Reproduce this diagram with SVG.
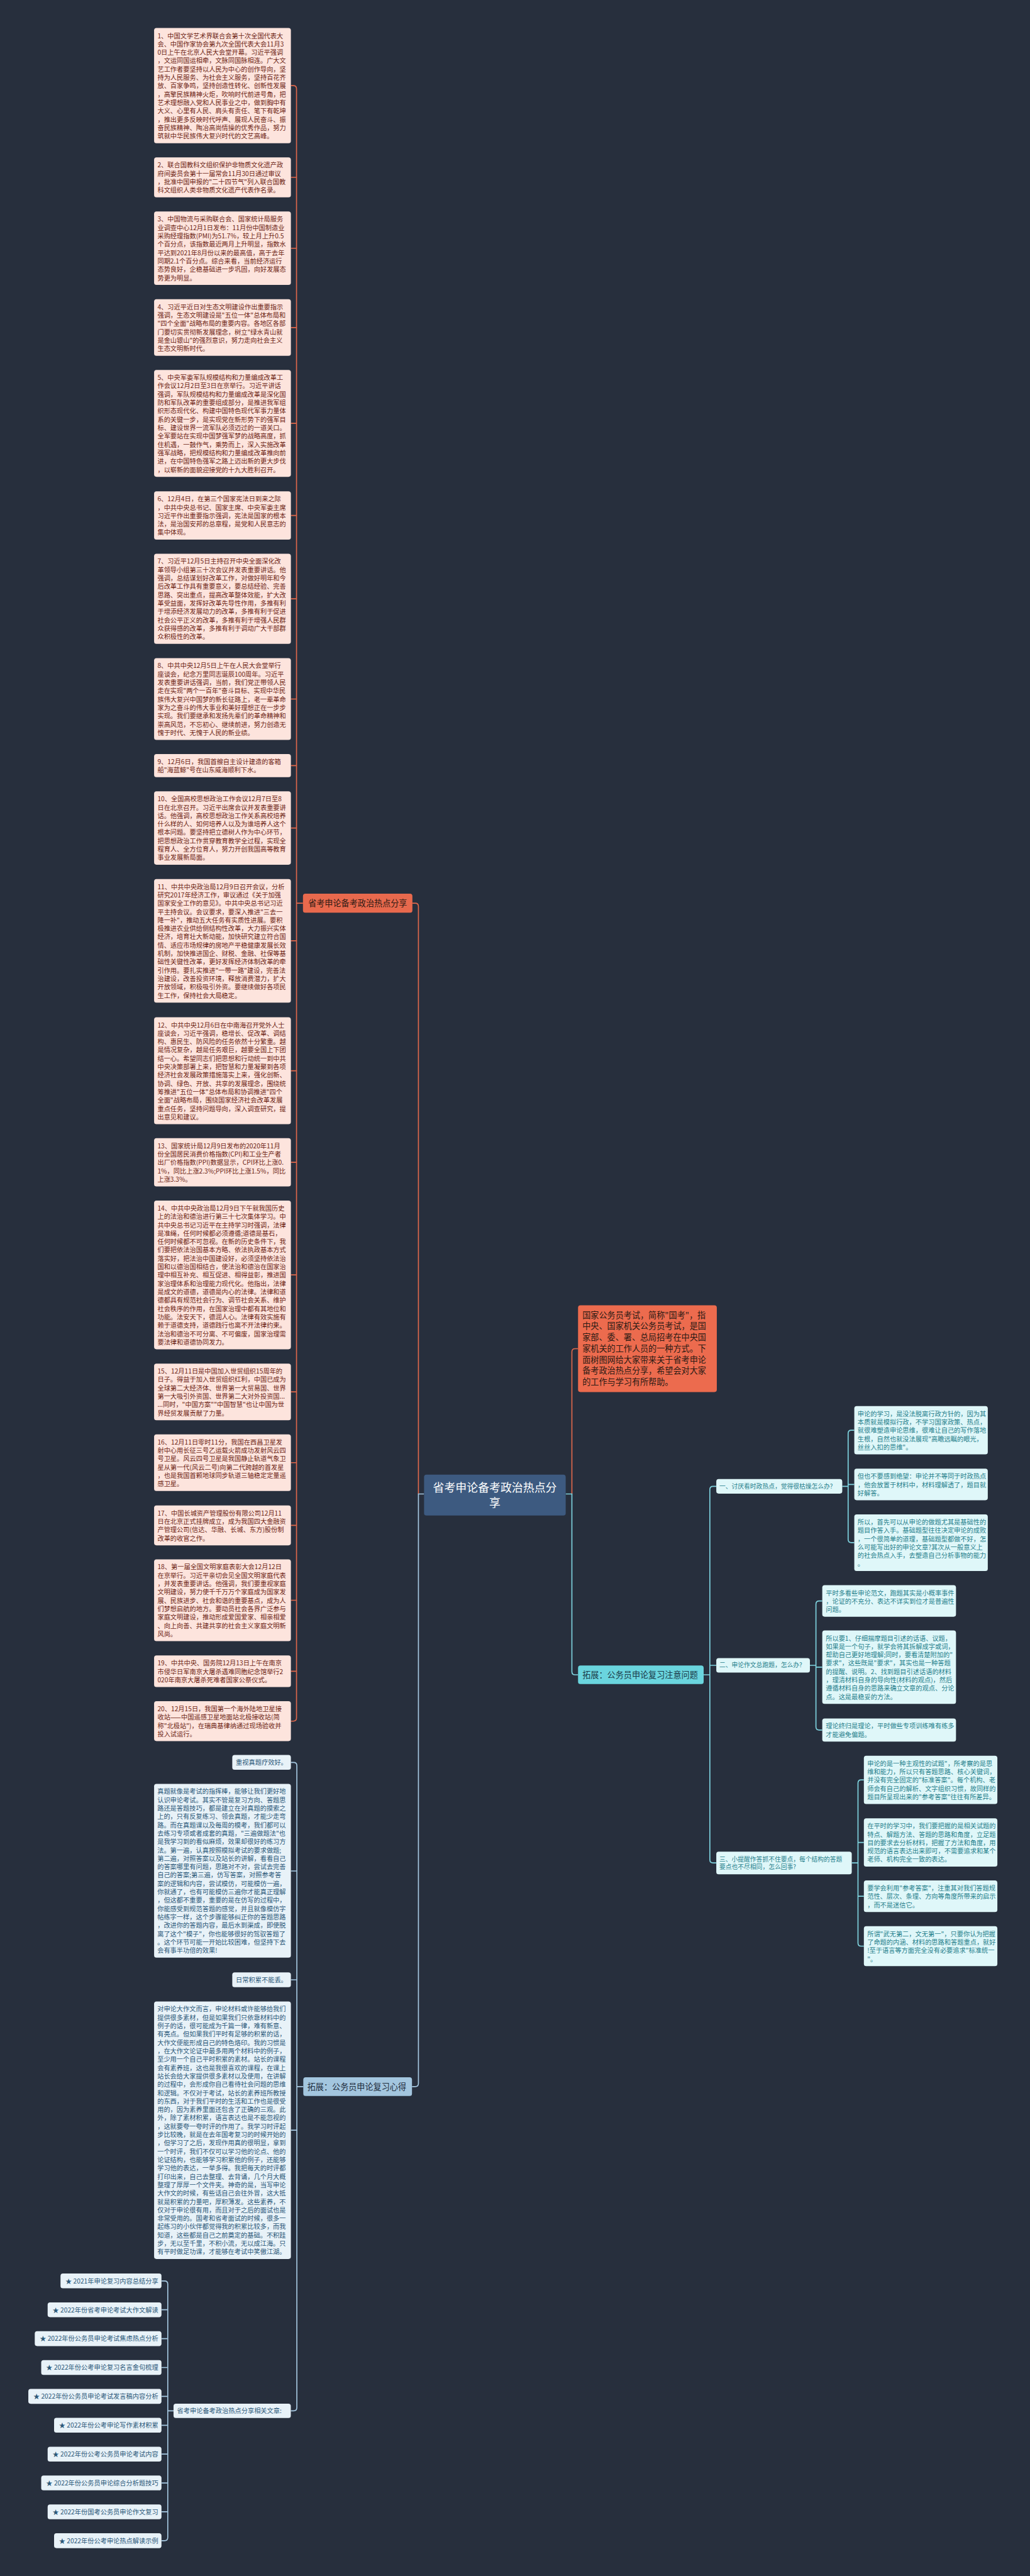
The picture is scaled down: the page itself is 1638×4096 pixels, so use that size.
<svg xmlns="http://www.w3.org/2000/svg" width="1638" height="4096" viewBox="0 0 1638 4096">
<style>
text{font-family:'Noto Sans CJK SC','Noto Sans',sans-serif;}
.lb{fill:#fde4dd;}
.lt{fill:#6e2414;font-size:16px;}
.cb{fill:#dff7f9;}
.ct{fill:#1f7f8c;font-size:16px;}
.bb{fill:#e8f2f8;}
.bt{fill:#2b5878;font-size:16px;}
.oc{fill:none;stroke:#e0684c;stroke-width:2.6;}
.cc{fill:none;stroke:#7fd4e0;stroke-width:2.6;}
.bc{fill:none;stroke:#a7c9e2;stroke-width:2.6;}
</style>
<rect width="1638" height="4096" fill="#272f3d"/>
<g transform="scale(0.63984)">
<g id="connectors">
<path class="oc" d="M723,212.8 H729 Q737,212.8 737,220.8 V4269.2 Q737,4277.2 729,4277.2 H723 M737,440.8 H723 M737,616.9 H723 M737,814 H723 M737,1052.1 H723 M737,1281 H723 M737,1488 H723 M737,1737.1 H723 M737,1902.6 H723 M737,2057.7 H723 M737,2338 H723 M737,2660.9 H723 M737,2888.4 H723 M737,3168.3 H723 M737,3459 H723 M737,3634.9 H723 M737,3790.7 H723 M737,3976.8 H723 M737,4153.2 H723 M737,2244.5 H753"/>
<path class="oc" d="M1040,3712.7 V2252.5 Q1040,2244.5 1032,2244.5 H1025"/>
<path class="bc" d="M1054,3712.7 H1040 V5177.5 Q1040,5185.5 1032,5185.5 H1024"/>
<path class="oc" d="M1421.4,3712.7 V3359.6 Q1421.4,3351.6 1429.4,3351.6 H1436.7"/>
<path class="cc" d="M1406,3712.7 H1421.4 V4154 Q1421.4,4162 1429.4,4162 H1436.7"/>
<path class="cc" d="M1748.9,4162 H1764.3 M1780.3,3693.7 H1772.3 Q1764.3,3693.7 1764.3,3701.7 V4621.6 Q1764.3,4629.6 1772.3,4629.6 H1780.3 M1764.3,4138.5 H1780.3"/>
<path class="cc" d="M2093.4,3693.7 H2108 M2123.3,3554.2 H2116 Q2108,3554.2 2108,3562.2 V3825.7 Q2108,3833.7 2116,3833.7 H2123.3 M2108,3688.9 H2123.3"/>
<path class="cc" d="M2013,4138.5 H2028 M2043.7,3978.5 H2036 Q2028,3978.5 2028,3986.5 V4291.3 Q2028,4299.3 2036,4299.3 H2043.7 M2028,4143.1 H2043.7"/>
<path class="cc" d="M2117,4629.6 H2132.5 M2147.1,4423.2 H2140.5 Q2132.5,4423.2 2132.5,4431.2 V4828.4 Q2132.5,4836.4 2140.5,4836.4 H2147.1 M2132.5,4578.7 H2147.1 M2132.5,4712.4 H2147.1"/>
<path class="bc" d="M753.8,5185.5 H737.8 M723,4379.7 H729.8 Q737.8,4379.7 737.8,4387.7 V5983.1 Q737.8,5991.1 729.8,5991.1 H722.8 M737.8,4649.6 H723 M737.8,4920 H723 M737.8,5293.8 H723"/>
<path class="bc" d="M431.3,5991.1 H417 M401.3,5668.3 H409 Q417,5668.3 417,5676.3 V6305.9 Q417,6313.9 409,6313.9 H401.3 M417,5740 H401.3 M417,5811.8 H401.3 M417,5883.5 H401.3 M417,5955.2 H401.3 M417,6027 H401.3 M417,6098.7 H401.3 M417,6170.4 H401.3 M417,6242.1 H401.3"/>
</g>

<g id="root">
<rect x="1054" y="3664.6" width="352" height="101.7" rx="6" fill="#3d5a80"/>
<text x="1230" y="3707" text-anchor="middle" fill="#ffffff" font-size="28"><tspan x="1230">省考申论备考政治热点分</tspan><tspan x="1230" dy="37">享</tspan></text>
</g>

<g id="branch-hot">
<rect x="753" y="2220.7" width="272" height="47.6" rx="6" fill="#e8694d"/>
<text x="889" y="2252" text-anchor="middle" fill="#2d1a14" font-size="20.5">省考申论备考政治热点分享</text>
</g>

<g id="n1"><rect class="lb" x="383" y="69.6" width="340" height="286.4" rx="6"/>
<text class="lt" y="94.6"><tspan x="391.4">1、中国文学艺术界联合会第十次全国代表大</tspan><tspan x="391.4" dy="20.8">会、中国作家协会第九次全国代表大会11月3</tspan><tspan x="391.4" dy="20.8">0日上午在北京人民大会堂开幕。习近平强调</tspan><tspan x="391.4" dy="20.8">，文运同国运相牵，文脉同国脉相连。广大文</tspan><tspan x="391.4" dy="20.8">艺工作者要坚持以人民为中心的创作导向，坚</tspan><tspan x="391.4" dy="20.8">持为人民服务、为社会主义服务，坚持百花齐</tspan><tspan x="391.4" dy="20.8">放、百家争鸣，坚持创造性转化、创新性发展</tspan><tspan x="391.4" dy="20.8">，高擎民族精神火炬，吹响时代前进号角，把</tspan><tspan x="391.4" dy="20.8">艺术理想融入党和人民事业之中，做到胸中有</tspan><tspan x="391.4" dy="20.8">大义、心里有人民、肩头有责任、笔下有乾坤</tspan><tspan x="391.4" dy="20.8">，推出更多反映时代呼声、展现人民奋斗、振</tspan><tspan x="391.4" dy="20.8">奋民族精神、陶冶高尚情操的优秀作品，努力</tspan><tspan x="391.4" dy="20.8">筑就中华民族伟大复兴时代的文艺高峰。</tspan></text></g>

<g id="n2"><rect class="lb" x="383" y="391.2" width="340" height="99.2" rx="6"/>
<text class="lt" y="416.2"><tspan x="391.4">2、联合国教科文组织保护非物质文化遗产政</tspan><tspan x="391.4" dy="20.8">府间委员会第十一届常会11月30日通过审议</tspan><tspan x="391.4" dy="20.8">，批准中国申报的"二十四节气"列入联合国教</tspan><tspan x="391.4" dy="20.8">科文组织人类非物质文化遗产代表作名录。</tspan></text></g>

<g id="n3"><rect class="lb" x="383" y="525.7" width="340" height="182.4" rx="6"/>
<text class="lt" y="550.7"><tspan x="391.4">3、中国物流与采购联合会、国家统计局服务</tspan><tspan x="391.4" dy="20.8">业调查中心12月1日发布：11月份中国制造业</tspan><tspan x="391.4" dy="20.8">采购经理指数(PMI)为51.7%，较上月上升0.5</tspan><tspan x="391.4" dy="20.8">个百分点，该指数最近两月上升明显，指数水</tspan><tspan x="391.4" dy="20.8">平达到2021年8月份以来的最高值，高于去年</tspan><tspan x="391.4" dy="20.8">同期2.1个百分点。综合来看，当前经济运行</tspan><tspan x="391.4" dy="20.8">态势良好，企稳基础进一步巩固，向好发展态</tspan><tspan x="391.4" dy="20.8">势更为明显。</tspan></text></g>

<g id="n4"><rect class="lb" x="383" y="743.6" width="340" height="140.8" rx="6"/>
<text class="lt" y="768.6"><tspan x="391.4">4、习近平近日对生态文明建设作出重要指示</tspan><tspan x="391.4" dy="20.8">强调，生态文明建设是"五位一体"总体布局和</tspan><tspan x="391.4" dy="20.8">"四个全面"战略布局的重要内容。各地区各部</tspan><tspan x="391.4" dy="20.8">门要切实贯彻新发展理念，树立"绿水青山就</tspan><tspan x="391.4" dy="20.8">是金山银山"的强烈意识，努力走向社会主义</tspan><tspan x="391.4" dy="20.8">生态文明新时代。</tspan></text></g>

<g id="n5"><rect class="lb" x="383" y="919.3" width="340" height="265.6" rx="6"/>
<text class="lt" y="944.3"><tspan x="391.4">5、中央军委军队规模结构和力量编成改革工</tspan><tspan x="391.4" dy="20.8">作会议12月2日至3日在京举行。习近平讲话</tspan><tspan x="391.4" dy="20.8">强调，军队规模结构和力量编成改革是深化国</tspan><tspan x="391.4" dy="20.8">防和军队改革的重要组成部分，是推进我军组</tspan><tspan x="391.4" dy="20.8">织形态现代化、构建中国特色现代军事力量体</tspan><tspan x="391.4" dy="20.8">系的关键一步，是实现党在新形势下的强军目</tspan><tspan x="391.4" dy="20.8">标、建设世界一流军队必须迈过的一道关口。</tspan><tspan x="391.4" dy="20.8">全军要站在实现中国梦强军梦的战略高度，抓</tspan><tspan x="391.4" dy="20.8">住机遇，一鼓作气，乘势而上，深入实施改革</tspan><tspan x="391.4" dy="20.8">强军战略，把规模结构和力量编成改革推向前</tspan><tspan x="391.4" dy="20.8">进，在中国特色强军之路上迈出新的更大步伐</tspan><tspan x="391.4" dy="20.8">，以崭新的面貌迎接党的十九大胜利召开。</tspan></text></g>

<g id="n6"><rect class="lb" x="383" y="1221" width="340" height="120" rx="6"/>
<text class="lt" y="1246"><tspan x="391.4">6、12月4日，在第三个国家宪法日到来之际</tspan><tspan x="391.4" dy="20.8">，中共中央总书记、国家主席、中央军委主席</tspan><tspan x="391.4" dy="20.8">习近平作出重要指示强调，宪法是国家的根本</tspan><tspan x="391.4" dy="20.8">法，是治国安邦的总章程，是党和人民意志的</tspan><tspan x="391.4" dy="20.8">集中体现。</tspan></text></g>

<g id="n7"><rect class="lb" x="383" y="1376" width="340" height="224" rx="6"/>
<text class="lt" y="1401"><tspan x="391.4">7、习近平12月5日主持召开中央全面深化改</tspan><tspan x="391.4" dy="20.8">革领导小组第三十次会议并发表重要讲话。他</tspan><tspan x="391.4" dy="20.8">强调，总结谋划好改革工作，对做好明年和今</tspan><tspan x="391.4" dy="20.8">后改革工作具有重要意义，要总结经验、完善</tspan><tspan x="391.4" dy="20.8">思路、突出重点，提高改革整体效能，扩大改</tspan><tspan x="391.4" dy="20.8">革受益面，发挥好改革先导性作用，多推有利</tspan><tspan x="391.4" dy="20.8">于增添经济发展动力的改革，多推有利于促进</tspan><tspan x="391.4" dy="20.8">社会公平正义的改革，多推有利于增强人民群</tspan><tspan x="391.4" dy="20.8">众获得感的改革，多推有利于调动广大干部群</tspan><tspan x="391.4" dy="20.8">众积极性的改革。</tspan></text></g>

<g id="n8"><rect class="lb" x="383" y="1635.5" width="340" height="203.2" rx="6"/>
<text class="lt" y="1660.5"><tspan x="391.4">8、中共中央12月5日上午在人民大会堂举行</tspan><tspan x="391.4" dy="20.8">座谈会，纪念万里同志诞辰100周年。习近平</tspan><tspan x="391.4" dy="20.8">发表重要讲话强调，当前，我们党正带领人民</tspan><tspan x="391.4" dy="20.8">走在实现"两个一百年"奋斗目标、实现中华民</tspan><tspan x="391.4" dy="20.8">族伟大复兴中国梦的新长征路上，老一辈革命</tspan><tspan x="391.4" dy="20.8">家为之奋斗的伟大事业和美好理想正在一步步</tspan><tspan x="391.4" dy="20.8">实现。我们要继承和发扬先辈们的革命精神和</tspan><tspan x="391.4" dy="20.8">崇高风范，不忘初心、继续前进，努力创造无</tspan><tspan x="391.4" dy="20.8">愧于时代、无愧于人民的新业绩。</tspan></text></g>

<g id="n9"><rect class="lb" x="383" y="1873.8" width="340" height="57.6" rx="6"/>
<text class="lt" y="1898.8"><tspan x="391.4">9、12月6日，我国首艘自主设计建造的客箱</tspan><tspan x="391.4" dy="20.8">船"海蓝鲸"号在山东威海顺利下水。</tspan></text></g>

<g id="n10"><rect class="lb" x="383" y="1966.5" width="340" height="182.4" rx="6"/>
<text class="lt" y="1991.5"><tspan x="391.4">10、全国高校思想政治工作会议12月7日至8</tspan><tspan x="391.4" dy="20.8">日在北京召开。习近平出席会议并发表重要讲</tspan><tspan x="391.4" dy="20.8">话。他强调，高校思想政治工作关系高校培养</tspan><tspan x="391.4" dy="20.8">什么样的人、如何培养人以及为谁培养人这个</tspan><tspan x="391.4" dy="20.8">根本问题。要坚持把立德树人作为中心环节，</tspan><tspan x="391.4" dy="20.8">把思想政治工作贯穿教育教学全过程，实现全</tspan><tspan x="391.4" dy="20.8">程育人、全方位育人，努力开创我国高等教育</tspan><tspan x="391.4" dy="20.8">事业发展新局面。</tspan></text></g>

<g id="n11"><rect class="lb" x="383" y="2184.4" width="340" height="307.2" rx="6"/>
<text class="lt" y="2209.4"><tspan x="391.4">11、中共中央政治局12月9日召开会议，分析</tspan><tspan x="391.4" dy="20.8">研究2017年经济工作，审议通过《关于加强</tspan><tspan x="391.4" dy="20.8">国家安全工作的意见》。中共中央总书记习近</tspan><tspan x="391.4" dy="20.8">平主持会议。会议要求，要深入推进"三去一</tspan><tspan x="391.4" dy="20.8">降一补"，推动五大任务有实质性进展。要积</tspan><tspan x="391.4" dy="20.8">极推进农业供给侧结构性改革，大力振兴实体</tspan><tspan x="391.4" dy="20.8">经济，培育壮大新动能，加快研究建立符合国</tspan><tspan x="391.4" dy="20.8">情、适应市场规律的房地产平稳健康发展长效</tspan><tspan x="391.4" dy="20.8">机制，加快推进国企、财税、金融、社保等基</tspan><tspan x="391.4" dy="20.8">础性关键性改革，更好发挥经济体制改革的牵</tspan><tspan x="391.4" dy="20.8">引作用。要扎实推进"一带一路"建设，完善法</tspan><tspan x="391.4" dy="20.8">治建设，改善投资环境，释放消费潜力，扩大</tspan><tspan x="391.4" dy="20.8">开放领域，积极吸引外资。要继续做好各项民</tspan><tspan x="391.4" dy="20.8">生工作，保持社会大局稳定。</tspan></text></g>

<g id="n12"><rect class="lb" x="383" y="2528.1" width="340" height="265.6" rx="6"/>
<text class="lt" y="2553.1"><tspan x="391.4">12、中共中央12月6日在中南海召开党外人士</tspan><tspan x="391.4" dy="20.8">座谈会，习近平强调，稳增长、促改革、调结</tspan><tspan x="391.4" dy="20.8">构、惠民生、防风险的任务依然十分繁重。越</tspan><tspan x="391.4" dy="20.8">是情况复杂，越是任务艰巨，越要全国上下团</tspan><tspan x="391.4" dy="20.8">结一心。希望同志们把思想和行动统一到中共</tspan><tspan x="391.4" dy="20.8">中央决策部署上来，把智慧和力量凝聚到各项</tspan><tspan x="391.4" dy="20.8">经济社会发展政策措施落实上来，强化创新、</tspan><tspan x="391.4" dy="20.8">协调、绿色、开放、共享的发展理念，围绕统</tspan><tspan x="391.4" dy="20.8">筹推进"五位一体"总体布局和协调推进"四个</tspan><tspan x="391.4" dy="20.8">全面"战略布局，围绕国家经济社会改革发展</tspan><tspan x="391.4" dy="20.8">重点任务，坚持问题导向，深入调查研究，提</tspan><tspan x="391.4" dy="20.8">出意见和建议。</tspan></text></g>

<g id="n13"><rect class="lb" x="383" y="2828.4" width="340" height="120" rx="6"/>
<text class="lt" y="2853.4"><tspan x="391.4">13、国家统计局12月9日发布的2020年11月</tspan><tspan x="391.4" dy="20.8">份全国居民消费价格指数(CPI)和工业生产者</tspan><tspan x="391.4" dy="20.8">出厂价格指数(PPI)数据显示，CPI环比上涨0.</tspan><tspan x="391.4" dy="20.8">1%，同比上涨2.3%;PPI环比上涨1.5%，同比</tspan><tspan x="391.4" dy="20.8">上涨3.3%。</tspan></text></g>

<g id="n14"><rect class="lb" x="383" y="2983.5" width="340" height="369.6" rx="6"/>
<text class="lt" y="3008.5"><tspan x="391.4">14、中共中央政治局12月9日下午就我国历史</tspan><tspan x="391.4" dy="20.8">上的法治和德治进行第三十七次集体学习。中</tspan><tspan x="391.4" dy="20.8">共中央总书记习近平在主持学习时强调，法律</tspan><tspan x="391.4" dy="20.8">是准绳，任何时候都必须遵循;道德是基石，</tspan><tspan x="391.4" dy="20.8">任何时候都不可忽视。在新的历史条件下，我</tspan><tspan x="391.4" dy="20.8">们要把依法治国基本方略、依法执政基本方式</tspan><tspan x="391.4" dy="20.8">落实好，把法治中国建设好，必须坚持依法治</tspan><tspan x="391.4" dy="20.8">国和以德治国相结合，使法治和德治在国家治</tspan><tspan x="391.4" dy="20.8">理中相互补充、相互促进、相得益彰，推进国</tspan><tspan x="391.4" dy="20.8">家治理体系和治理能力现代化。他指出，法律</tspan><tspan x="391.4" dy="20.8">是成文的道德，道德是内心的法律。法律和道</tspan><tspan x="391.4" dy="20.8">德都具有规范社会行为、调节社会关系、维护</tspan><tspan x="391.4" dy="20.8">社会秩序的作用，在国家治理中都有其地位和</tspan><tspan x="391.4" dy="20.8">功能。法安天下，德润人心。法律有效实施有</tspan><tspan x="391.4" dy="20.8">赖于道德支持，道德践行也离不开法律约束。</tspan><tspan x="391.4" dy="20.8">法治和德治不可分离、不可偏废，国家治理需</tspan><tspan x="391.4" dy="20.8">要法律和道德协同发力。</tspan></text></g>

<g id="n15"><rect class="lb" x="383" y="3388.6" width="340" height="140.8" rx="6"/>
<text class="lt" y="3413.6"><tspan x="391.4">15、12月11日是中国加入世贸组织15周年的</tspan><tspan x="391.4" dy="20.8">日子。得益于加入世贸组织红利，中国已成为</tspan><tspan x="391.4" dy="20.8">全球第二大经济体、世界第一大贸易国、世界</tspan><tspan x="391.4" dy="20.8">第一大吸引外资国、世界第二大对外投资国...</tspan><tspan x="391.4" dy="20.8">...同时，"中国方案""中国智慧"也让中国为世</tspan><tspan x="391.4" dy="20.8">界经贸发展贡献了力量。</tspan></text></g>

<g id="n16"><rect class="lb" x="383" y="3564.5" width="340" height="140.8" rx="6"/>
<text class="lt" y="3589.5"><tspan x="391.4">16、12月11日零时11分，我国在西昌卫星发</tspan><tspan x="391.4" dy="20.8">射中心用长征三号乙运载火箭成功发射风云四</tspan><tspan x="391.4" dy="20.8">号卫星。风云四号卫星是我国静止轨道气象卫</tspan><tspan x="391.4" dy="20.8">星从第一代(风云二号)向第二代跨越的首发星</tspan><tspan x="391.4" dy="20.8">，也是我国首颗地球同步轨道三轴稳定定量遥</tspan><tspan x="391.4" dy="20.8">感卫星。</tspan></text></g>

<g id="n17"><rect class="lb" x="383" y="3741.1" width="340" height="99.2" rx="6"/>
<text class="lt" y="3766.1"><tspan x="391.4">17、中国长城资产管理股份有限公司12月11</tspan><tspan x="391.4" dy="20.8">日在北京正式挂牌成立，成为我国四大金融资</tspan><tspan x="391.4" dy="20.8">产管理公司(信达、华融、长城、东方)股份制</tspan><tspan x="391.4" dy="20.8">改革的收官之作。</tspan></text></g>

<g id="n18"><rect class="lb" x="383" y="3875.2" width="340" height="203.2" rx="6"/>
<text class="lt" y="3900.2"><tspan x="391.4">18、第一届全国文明家庭表彰大会12月12日</tspan><tspan x="391.4" dy="20.8">在京举行。习近平亲切会见全国文明家庭代表</tspan><tspan x="391.4" dy="20.8">，并发表重要讲话。他强调，我们要重视家庭</tspan><tspan x="391.4" dy="20.8">文明建设，努力使千千万万个家庭成为国家发</tspan><tspan x="391.4" dy="20.8">展、民族进步、社会和谐的重要基点，成为人</tspan><tspan x="391.4" dy="20.8">们梦想启航的地方。要动员社会各界广泛参与</tspan><tspan x="391.4" dy="20.8">家庭文明建设，推动形成爱国爱家、相亲相爱</tspan><tspan x="391.4" dy="20.8">、向上向善、共建共享的社会主义家庭文明新</tspan><tspan x="391.4" dy="20.8">风尚。</tspan></text></g>

<g id="n19"><rect class="lb" x="383" y="4114" width="340" height="78.4" rx="6"/>
<text class="lt" y="4139"><tspan x="391.4">19、中共中央、国务院12月13日上午在南京</tspan><tspan x="391.4" dy="20.8">市侵华日军南京大屠杀遇难同胞纪念馆举行2</tspan><tspan x="391.4" dy="20.8">020年南京大屠杀死难者国家公祭仪式。</tspan></text></g>

<g id="n20"><rect class="lb" x="383" y="4227.6" width="340" height="99.2" rx="6"/>
<text class="lt" y="4252.6"><tspan x="391.4">20、12月15日，我国第一个海外陆地卫星接</tspan><tspan x="391.4" dy="20.8">收站——中国遥感卫星地面站北极接收站(简</tspan><tspan x="391.4" dy="20.8">称"北极站")，在瑞典基律纳通过现场验收并</tspan><tspan x="391.4" dy="20.8">投入试运行。</tspan></text></g>

<g id="intro">
<rect x="1436.7" y="3243.9" width="344.9" height="215.4" rx="6" fill="#ec6b4e"/>
<text y="3275.4" fill="#2a1a14" font-size="20.5"><tspan x="1447.6">国家公务员考试，简称"国考"，指</tspan><tspan x="1447.6" dy="27.7">中央、国家机关公务员考试，是国</tspan><tspan x="1447.6" dy="27.7">家部、委、署、总局招考在中央国</tspan><tspan x="1447.6" dy="27.7">家机关的工作人员的一种方式。下</tspan><tspan x="1447.6" dy="27.7">面树图网给大家带来关于省考申论</tspan><tspan x="1447.6" dy="27.7">备考政治热点分享，希望会对大家</tspan><tspan x="1447.6" dy="27.7">的工作与学习有所帮助。</tspan></text>
</g>

<g id="branch-attention">
<rect x="1436.7" y="4139" width="312.2" height="46.2" rx="6" fill="#6ad5de"/>
<text x="1447.6" y="4169.5" fill="#1a3a48" font-size="20.5">拓展：公务员申论复习注意问题</text>
</g>

<g id="q1">
<rect class="cb" x="1780.3" y="3675.7" width="313.1" height="36.1" rx="6"/>
<text class="ct" x="1788" y="3699.3" font-size="15.3" style="font-size:15.3px">一、讨厌看时政热点，觉得很枯燥怎么办?</text>
</g>
<g id="q2">
<rect class="cb" x="1780.3" y="4120.5" width="232.7" height="36.1" rx="6"/>
<text class="ct" x="1788" y="4144" style="font-size:15.3px">二、申论作文总跑题，怎么办?</text>
</g>
<g id="q3">
<rect class="cb" x="1780.3" y="4601.4" width="336.7" height="56.5" rx="6"/>
<text class="ct" y="4625.5" style="font-size:15.3px"><tspan x="1788">三、小提醒作答抓不住要点，每个结构的答题</tspan><tspan x="1788" dy="20">要点也不尽相同，怎么回事?</tspan></text>
</g>

<g id="a1"><rect class="cb" x="2123.3" y="3494.2" width="331.8" height="120" rx="6"/>
<text class="ct" y="3519.2"><tspan x="2131.5">申论的学习，是没法脱离行政方针的，因为其</tspan><tspan x="2131.5" dy="20.8">本质就是模拟行政，不学习国家政策、热点，</tspan><tspan x="2131.5" dy="20.8">就很难塑造申论思维，很难让自己的写作落地</tspan><tspan x="2131.5" dy="20.8">生根，自然也就没法展现"高瞻远瞩的眼光，</tspan><tspan x="2131.5" dy="20.8">丝丝入扣的思维"。</tspan></text></g>
<g id="a2"><rect class="cb" x="2123.3" y="3649.7" width="331.8" height="78.4" rx="6"/>
<text class="ct" y="3674.7"><tspan x="2131.5">但也不要感到绝望：申论并不等同于时政热点</tspan><tspan x="2131.5" dy="20.8">，他会放置于材料中，材料理解透了，题目就</tspan><tspan x="2131.5" dy="20.8">好解答。</tspan></text></g>
<g id="a3"><rect class="cb" x="2123.3" y="3763.3" width="331.8" height="140.8" rx="6"/>
<text class="ct" y="3788.3"><tspan x="2131.5">所以，首先可以从申论的做题尤其是基础性的</tspan><tspan x="2131.5" dy="20.8">题目作答入手。基础题型往往决定申论的成败</tspan><tspan x="2131.5" dy="20.8">，一个很简单的道理，基础题型都做不好，怎</tspan><tspan x="2131.5" dy="20.8">么可能写出好的申论文章?其次从一般意义上</tspan><tspan x="2131.5" dy="20.8">的社会热点入手，去塑造自己分析事物的能力</tspan><tspan x="2131.5" dy="20.8">。</tspan></text></g>

<g id="b1"><rect class="cb" x="2043.7" y="3939.3" width="332.4" height="78.4" rx="6"/>
<text class="ct" y="3964.3"><tspan x="2052.4">平时多看些申论范文，跑题其实是小概率事件</tspan><tspan x="2052.4" dy="20.8">，论证的不充分、表达不详实到位才是普遍性</tspan><tspan x="2052.4" dy="20.8">问题。</tspan></text></g>
<g id="b2"><rect class="cb" x="2043.7" y="4051.9" width="332.4" height="182.4" rx="6"/>
<text class="ct" y="4076.9"><tspan x="2052.4">所以要1、仔细揣摩题目引述的话语、议题，</tspan><tspan x="2052.4" dy="20.8">如果是一个句子，就学会将其拆解成字或词，</tspan><tspan x="2052.4" dy="20.8">帮助自己更好地理解;同时，要看清楚附加的"</tspan><tspan x="2052.4" dy="20.8">要求"，这些既是"要求"，其实也是一种答题</tspan><tspan x="2052.4" dy="20.8">的提醒、说明。2、找到题目引述话语的材料</tspan><tspan x="2052.4" dy="20.8">，理清材料自身的导向性(材料的观点)，然后</tspan><tspan x="2052.4" dy="20.8">遵循材料自身的思路来确立文章的观点、分论</tspan><tspan x="2052.4" dy="20.8">点。这是最稳妥的方法。</tspan></text></g>
<g id="b3"><rect class="cb" x="2043.7" y="4270.5" width="332.4" height="57.6" rx="6"/>
<text class="ct" y="4295.5"><tspan x="2052.4">理论终归是理论，平时做些专项训练唯有练多</tspan><tspan x="2052.4" dy="20.8">才能避免偏题。</tspan></text></g>

<g id="c1"><rect class="cb" x="2147.1" y="4363.2" width="331.8" height="120" rx="6"/>
<text class="ct" y="4388.2"><tspan x="2155.5">申论的是一种主观性的试题"，所考察的是思</tspan><tspan x="2155.5" dy="20.8">维和能力，所以只有答题思路、核心关键词，</tspan><tspan x="2155.5" dy="20.8">并没有完全固定的"标准答案"。每个机构、老</tspan><tspan x="2155.5" dy="20.8">师会有自己的解析、文字组织习惯，故同样的</tspan><tspan x="2155.5" dy="20.8">题目所呈现出来的"参考答案"往往有所差异。</tspan></text></g>
<g id="c2"><rect class="cb" x="2147.1" y="4518.7" width="331.8" height="120" rx="6"/>
<text class="ct" y="4543.7"><tspan x="2155.5">在平时的学习中，我们要把握的是相关试题的</tspan><tspan x="2155.5" dy="20.8">特点、解题方法、答题的思路和角度，立足题</tspan><tspan x="2155.5" dy="20.8">目的要求去分析材料，把握了方法和角度，用</tspan><tspan x="2155.5" dy="20.8">规范的语言表达出来即可，不需要追求和某个</tspan><tspan x="2155.5" dy="20.8">老师、机构完全一致的表达。</tspan></text></g>
<g id="c3"><rect class="cb" x="2147.1" y="4673.2" width="331.8" height="78.4" rx="6"/>
<text class="ct" y="4698.2"><tspan x="2155.5">要学会利用"参考答案"，注重其对我们答题规</tspan><tspan x="2155.5" dy="20.8">范性、层次、条理、方向等角度所带来的启示</tspan><tspan x="2155.5" dy="20.8">，而不是迷信它。</tspan></text></g>
<g id="c4"><rect class="cb" x="2147.1" y="4786.8" width="331.8" height="99.2" rx="6"/>
<text class="ct" y="4811.8"><tspan x="2155.5">所谓"武无第二，文无第一"，只要你认为把握</tspan><tspan x="2155.5" dy="20.8">了命题的内涵、材料的思路和答题重点，就好</tspan><tspan x="2155.5" dy="20.8">!至于语言等方面完全没有必要追求"标准统一</tspan><tspan x="2155.5" dy="20.8">"。</tspan></text></g>

<g id="branch-experience">
<rect x="753.8" y="5162.2" width="270.2" height="46.6" rx="6" fill="#a3c6df"/>
<text x="763.8" y="5193" fill="#1e2d3d" font-size="20.5">拓展：公务员申论复习心得</text>
</g>

<g id="e1"><rect class="bb" x="577.3" y="4361.4" width="145.7" height="36.6" rx="6"/>
<text class="bt" x="714" y="4385.7" text-anchor="end">重视真题疗效好。</text></g>
<g id="e2"><rect class="bb" x="383" y="4433" width="340" height="432" rx="6"/>
<text class="bt" y="4458"><tspan x="391">真题就像是考试的指挥棒，能够让我们更好地</tspan><tspan x="391" dy="20.8">认识申论考试。其实不管是复习方向、答题思</tspan><tspan x="391" dy="20.8">路还是答题技巧，都是建立在对真题的摸索之</tspan><tspan x="391" dy="20.8">上的，只有反复练习、领会真题，才能少走弯</tspan><tspan x="391" dy="20.8">路。而在真题课以及每周的模考，我们都可以</tspan><tspan x="391" dy="20.8">去练习专项或者成套的真题，"三遍做题法"也</tspan><tspan x="391" dy="20.8">是我学习到的看似麻烦，效果却很好的练习方</tspan><tspan x="391" dy="20.8">法。第一遍，认真按照模拟考试的要求做题;</tspan><tspan x="391" dy="20.8">第二遍，对照答案以及站长的讲解，看看自己</tspan><tspan x="391" dy="20.8">的答案哪里有问题，思路对不对，尝试去完善</tspan><tspan x="391" dy="20.8">自己的答案;第三遍，仿写答案，对照参考答</tspan><tspan x="391" dy="20.8">案的逻辑和内容，尝试模仿，可能模仿一遍，</tspan><tspan x="391" dy="20.8">你就通了，也有可能模仿三遍你才能真正理解</tspan><tspan x="391" dy="20.8">，但这都不重要，重要的是在仿写的过程中，</tspan><tspan x="391" dy="20.8">你能感受到规范答题的感觉，并且就像模仿字</tspan><tspan x="391" dy="20.8">帖练字一样，这个步骤能够纠正你的答题思路</tspan><tspan x="391" dy="20.8">，改进你的答题内容，最后水到渠成，即使脱</tspan><tspan x="391" dy="20.8">离了这个"模子"，你也能够很好的驾驭答题了</tspan><tspan x="391" dy="20.8">。这个环节可能一开始比较困难，但坚持下去</tspan><tspan x="391" dy="20.8">会有事半功倍的效果!</tspan></text></g>
<g id="e3"><rect class="bb" x="577.3" y="4901.7" width="145.7" height="36.6" rx="6"/>
<text class="bt" x="714" y="4926" text-anchor="end">日常积累不能丢。</text></g>
<g id="e4"><rect class="bb" x="383" y="4973.8" width="340" height="640" rx="6"/>
<text class="bt" y="4998.8"><tspan x="391">对申论大作文而言，申论材料或许能够给我们</tspan><tspan x="391" dy="20.8">提供很多素材，但是如果我们只依靠材料中的</tspan><tspan x="391" dy="20.8">例子的话，很可能成为千篇一律，难有新意、</tspan><tspan x="391" dy="20.8">有亮点。但如果我们平时有足够的积累的话，</tspan><tspan x="391" dy="20.8">大作文便能形成自己的特色烙印。我的习惯是</tspan><tspan x="391" dy="20.8">，在大作文论证中最多用两个材料中的例子，</tspan><tspan x="391" dy="20.8">至少用一个自己平时积累的素材。站长的课程</tspan><tspan x="391" dy="20.8">会有素养班，这也是我很喜欢的课程，在课上</tspan><tspan x="391" dy="20.8">站长会给大家提供很多素材以及使用，在讲解</tspan><tspan x="391" dy="20.8">的过程中，会形成你自己看待社会问题的思维</tspan><tspan x="391" dy="20.8">和逻辑。不仅对于考试，站长的素养班所教授</tspan><tspan x="391" dy="20.8">的东西，对于我们平时的生活和工作也是很受</tspan><tspan x="391" dy="20.8">用的，因为素养里面还包含了正确的三观。此</tspan><tspan x="391" dy="20.8">外，除了素材积累，语言表达也是不能忽视的</tspan><tspan x="391" dy="20.8">，这就要夸一夸时评的作用了。我学习时评起</tspan><tspan x="391" dy="20.8">步比较晚，就是在去年国考复习的时候开始的</tspan><tspan x="391" dy="20.8">，但学习了之后，发现作用真的很明显，拿到</tspan><tspan x="391" dy="20.8">一个时评，我们不仅可以学习他的论点、他的</tspan><tspan x="391" dy="20.8">论证结构，也能够学习积累他的例子，还能够</tspan><tspan x="391" dy="20.8">学习他的表达，一举多得。我把每天的时评都</tspan><tspan x="391" dy="20.8">打印出来，自己去整理、去背诵，几个月大概</tspan><tspan x="391" dy="20.8">整理了厚厚一个文件夹。神奇的是，当写申论</tspan><tspan x="391" dy="20.8">大作文的时候，有些话自己会往外冒，这大抵</tspan><tspan x="391" dy="20.8">就是积累的力量吧，厚积薄发。这些素养，不</tspan><tspan x="391" dy="20.8">仅对于申论很有用，而且对于之后的面试也是</tspan><tspan x="391" dy="20.8">非常受用的。国考和省考面试的时候，很多一</tspan><tspan x="391" dy="20.8">起练习的小伙伴都觉得我的积累比较多，而我</tspan><tspan x="391" dy="20.8">知道，这些都是自己之前奠定的基础。不积跬</tspan><tspan x="391" dy="20.8">步，无以至千里，不积小流，无以成江海。只</tspan><tspan x="391" dy="20.8">有平时做足功课，才能够在考试中笑傲江湖。</tspan></text></g>

<g id="related">
<rect class="bb" x="431.3" y="5973.2" width="291.5" height="35.8" rx="6"/>
<text class="bt" x="440" y="5997">省考申论备考政治热点分享相关文章:</text>
</g>
<g id="r1"><rect class="bb" x="150.4" y="5649.9" width="250.9" height="36.8" rx="6"/><text class="bt" x="393.3" y="5674.3" text-anchor="end">★ 2021年申论复习内容总结分享</text></g>
<g id="r2"><rect class="bb" x="118.4" y="5721.6" width="282.9" height="36.8" rx="6"/><text class="bt" x="393.3" y="5746" text-anchor="end">★ 2022年份省考申论考试大作文解读</text></g>
<g id="r3"><rect class="bb" x="86.4" y="5793.4" width="314.9" height="36.8" rx="6"/><text class="bt" x="393.3" y="5817.8" text-anchor="end">★ 2022年份公务员申论考试焦虑热点分析</text></g>
<g id="r4"><rect class="bb" x="102.4" y="5865.1" width="298.9" height="36.8" rx="6"/><text class="bt" x="393.3" y="5889.5" text-anchor="end">★ 2022年份公考申论复习名言金句梳理</text></g>
<g id="r5"><rect class="bb" x="70.4" y="5936.8" width="330.9" height="36.8" rx="6"/><text class="bt" x="393.3" y="5961.2" text-anchor="end">★ 2022年份公务员申论考试发言稿内容分析</text></g>
<g id="r6"><rect class="bb" x="134.4" y="6008.6" width="266.9" height="36.8" rx="6"/><text class="bt" x="393.3" y="6033" text-anchor="end">★ 2022年份公考申论写作素材积累</text></g>
<g id="r7"><rect class="bb" x="118.4" y="6080.3" width="282.9" height="36.8" rx="6"/><text class="bt" x="393.3" y="6104.7" text-anchor="end">★ 2022年份公考公务员申论考试内容</text></g>
<g id="r8"><rect class="bb" x="102.4" y="6152" width="298.9" height="36.8" rx="6"/><text class="bt" x="393.3" y="6176.4" text-anchor="end">★ 2022年份公务员申论综合分析题技巧</text></g>
<g id="r9"><rect class="bb" x="118.4" y="6223.7" width="282.9" height="36.8" rx="6"/><text class="bt" x="393.3" y="6248.1" text-anchor="end">★ 2022年份国考公务员申论作文复习</text></g>
<g id="r10"><rect class="bb" x="134.4" y="6295.5" width="266.9" height="36.8" rx="6"/><text class="bt" x="393.3" y="6319.9" text-anchor="end">★ 2022年份公考申论热点解读示例</text></g>
</g>
</svg>
